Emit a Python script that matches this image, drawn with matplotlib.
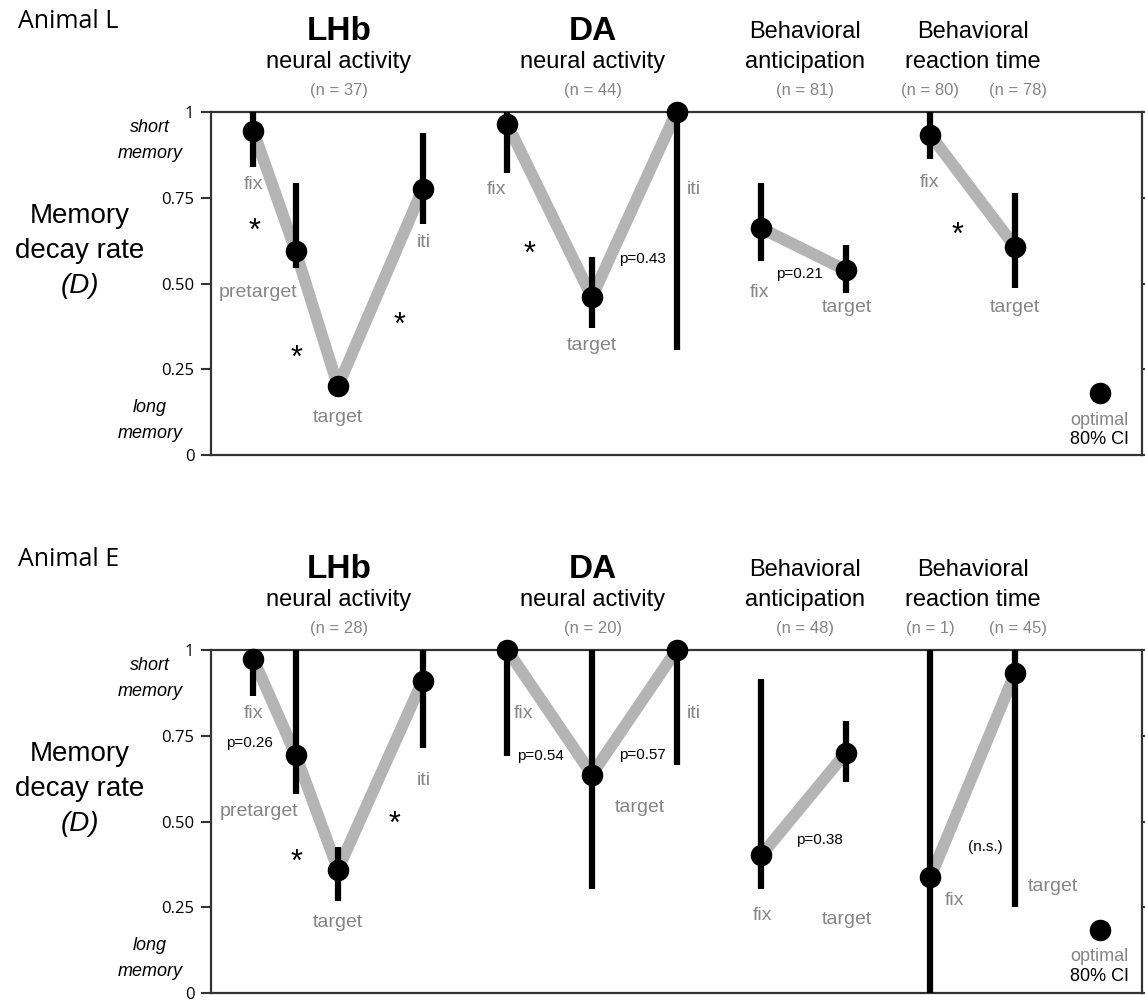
import matplotlib
matplotlib.use("Agg")
import matplotlib.pyplot as plt

# ---- data ----
# slot index of each condition along the x axis
lhb_x = [1, 2, 3, 5]
da_x = [7, 9, 11]
ant_x = [13, 15]
rt_x = [17, 19]
opt_x = 21

# Animal L: memory decay rate D with 80% CI
L_lhb = [0.945, 0.595, 0.20, 0.775]
L_lhb_lo = [0.84, 0.545, 0.17, 0.673]
L_lhb_hi = [1.0, 0.793, 0.22, 0.94]
L_da = [0.965, 0.46, 1.0]
L_da_lo = [0.822, 0.37, 0.306]
L_da_hi = [1.0, 0.577, 1.0]
L_ant = [0.661, 0.539]
L_ant_lo = [0.566, 0.473]
L_ant_hi = [0.793, 0.612]
L_rt = [0.933, 0.607]
L_rt_lo = [0.862, 0.486]
L_rt_hi = [1.0, 0.763]
L_optimal = 0.18
L_n = ["(n = 37)", "(n = 44)", "(n = 81)", "(n = 80)", "(n = 78)"]

# Animal E
E_lhb = [0.974, 0.695, 0.36, 0.91]
E_lhb_lo = [0.866, 0.581, 0.267, 0.715]
E_lhb_hi = [1.0, 1.0, 0.427, 1.0]
E_da = [1.0, 0.637, 1.0]
E_da_lo = [0.69, 0.302, 0.666]
E_da_hi = [1.0, 1.0, 1.0]
E_ant = [0.401, 0.70]
E_ant_lo = [0.302, 0.616]
E_ant_hi = [0.916, 0.794]
E_rt = [0.337, 0.933]
E_rt_lo = [0.0, 0.25]
E_rt_hi = [1.0, 1.0]
E_optimal = 0.183
E_n = ["(n = 28)", "(n = 20)", "(n = 48)", "(n = 1)", "(n = 45)"]

# point labels (text, x, y, ha) and stats marks (text, x, y)
L_labels = [("fix", 1.0, 0.79, "center"), ("pretarget", 1.1, 0.475, "center"),
            ("target", 3.0, 0.11, "center"), ("iti", 5.02, 0.62, "center"),
            ("fix", 6.75, 0.775, "center"), ("target", 9.0, 0.32, "center"),
            ("iti", 11.25, 0.775, "left"),
            ("fix", 12.97, 0.475, "center"), ("target", 15.02, 0.43, "center"),
            ("fix", 16.99, 0.795, "center"), ("target", 19.0, 0.43, "center")]
L_stats = [("*", 1.03, 0.68), ("*", 2.02, 0.31), ("*", 4.45, 0.405),
           ("*", 7.53, 0.612), ("p=0.43", 10.2, 0.571),
           ("p=0.21", 13.9, 0.528), ("*", 17.65, 0.67)]

E_labels = [("fix", 1.0, 0.815, "center"), ("pretarget", 1.14, 0.53, "center"),
            ("target", 3.0, 0.205, "center"), ("iti", 5.02, 0.62, "center"),
            ("fix", 7.15, 0.815, "left"), ("target", 9.55, 0.54, "left"),
            ("iti", 11.25, 0.815, "left"),
            ("fix", 13.04, 0.225, "center"), ("target", 15.02, 0.215, "center"),
            ("fix", 17.35, 0.27, "left"), ("target", 19.3, 0.31, "left")]
E_stats = [("p=0.26", 0.9, 0.73), ("*", 2.02, 0.41), ("*", 4.33, 0.52),
           ("p=0.54", 7.79, 0.69), ("p=0.57", 10.2, 0.695),
           ("p=0.38", 14.39, 0.445), ("(n.s.)", 18.29, 0.427)]

W, H = 1145, 1000
GRAY_TXT = "#858585"
GRAY_LINE = "#b4b4b4"
SANS = ["Liberation Sans", "DejaVu Sans"]
NARROW = ["Liberation Sans Narrow", "Liberation Sans", "DejaVu Sans"]
TICKF = ["Open Sans", "DejaVu Sans"]


def fx(x):
    return x / W


def fy(y):
    return 1 - y / H


def draw_panel(ax, series, optimal, labels, stats):
    for xs, d, lo, hi in series:
        ax.plot(xs, d, color=GRAY_LINE, lw=8.5, zorder=1, solid_capstyle="butt")
        yerr = [[v - l for v, l in zip(d, lo)], [h - v for v, h in zip(d, hi)]]
        ax.errorbar(xs, d, yerr=yerr, fmt="o", color="black", ms=14.5,
                    elinewidth=4.5, capsize=0, zorder=3, clip_on=False)
    ax.plot([opt_x], [optimal], "o", color="black", ms=14.5, zorder=3)
    ax.text(opt_x, optimal - 0.078, "optimal", ha="center", va="center",
            fontsize=13, color=GRAY_TXT, family=NARROW)
    ax.text(opt_x, optimal - 0.136, "80% CI", ha="center", va="center",
            fontsize=13, color="black", family=NARROW)
    for t, x, y, ha in labels:
        ax.text(x, y, t, ha=ha, va="center", fontsize=14, color=GRAY_TXT,
                family=NARROW)
    for t, x, y in stats:
        if t == "*":
            ax.text(x, y - 0.03, t, ha="center", va="center", fontsize=22,
                    color="black", family=SANS)
        else:
            ax.text(x, y, t, ha="center", va="center", fontsize=11,
                    color="black", family=NARROW)

    ax.set_xlim(0, 22)
    ax.set_ylim(0, 1)
    ax.set_xticks([])
    ax.set_yticks([0, 0.25, 0.5, 0.75, 1])
    ax.set_yticklabels(["0", "0.25", "0.50", "0.75", "1"])
    for lab in ax.get_yticklabels():
        lab.set_family(TICKF)
        lab.set_fontsize(12)
    ax.tick_params(axis="y", direction="out", length=7, width=1.5,
                   colors="#333333", labelcolor="black", pad=5, right=True)
    for s in ax.spines.values():
        s.set_linewidth(1.6)
        s.set_color("#333333")


def draw_headers(dy, animal, ns):
    fig.text(fx(18), fy(22 + dy), animal, fontsize=18, family=TICKF,
             ha="left", va="center")
    for x, name in [(339, "LHb"), (593, "DA")]:
        fig.text(fx(x), fy(32 + dy), name, fontsize=24, fontweight="bold",
                 family=SANS, ha="center", va="center")
        fig.text(fx(x), fy(62 + dy), "neural activity", fontsize=17,
                 family=SANS, ha="center", va="center")
    fig.text(fx(805), fy(32 + dy), "Behavioral", fontsize=17, family=SANS,
             ha="center", va="center")
    fig.text(fx(805), fy(62 + dy), "anticipation", fontsize=17, family=SANS,
             ha="center", va="center")
    fig.text(fx(973), fy(32 + dy), "Behavioral", fontsize=17, family=SANS,
             ha="center", va="center")
    fig.text(fx(973), fy(62 + dy), "reaction time", fontsize=17, family=SANS,
             ha="center", va="center")
    for x, t in zip([339, 593, 805, 930, 1018], ns):
        fig.text(fx(x), fy(91 + dy), t, fontsize=12, color=GRAY_TXT,
                 family=NARROW, ha="center", va="center")
    # y axis label
    fig.text(fx(80), fy(216 + dy), "Memory", fontsize=20, family=SANS,
             ha="center", va="center")
    fig.text(fx(80), fy(251 + dy), "decay rate", fontsize=20, family=SANS,
             ha="center", va="center")
    fig.text(fx(80), fy(286 + dy), "(D)", fontsize=20, family=SANS,
             style="italic", ha="center", va="center")
    for y, t in [(128, "short"), (154, "memory"), (407, "long"), (433, "memory")]:
        fig.text(fx(150), fy(y + dy), t, fontsize=13, family=SANS,
                 style="italic", ha="center", va="center")


fig = plt.figure(figsize=(W / 100, H / 100), dpi=100)
ax_l = fig.add_axes([fx(211), fy(455), (1142 - 211) / W, 343 / H])
ax_e = fig.add_axes([fx(211), fy(993), (1142 - 211) / W, 343 / H])

draw_panel(ax_l, [(lhb_x, L_lhb, L_lhb_lo, L_lhb_hi),
                  (da_x, L_da, L_da_lo, L_da_hi),
                  (ant_x, L_ant, L_ant_lo, L_ant_hi),
                  (rt_x, L_rt, L_rt_lo, L_rt_hi)],
           L_optimal, L_labels, L_stats)
draw_panel(ax_e, [(lhb_x, E_lhb, E_lhb_lo, E_lhb_hi),
                  (da_x, E_da, E_da_lo, E_da_hi),
                  (ant_x, E_ant, E_ant_lo, E_ant_hi),
                  (rt_x, E_rt, E_rt_lo, E_rt_hi)],
           E_optimal, E_labels, E_stats)

draw_headers(0, "Animal L", L_n)
draw_headers(538, "Animal E", E_n)

fig.savefig("out.png", dpi=100)
